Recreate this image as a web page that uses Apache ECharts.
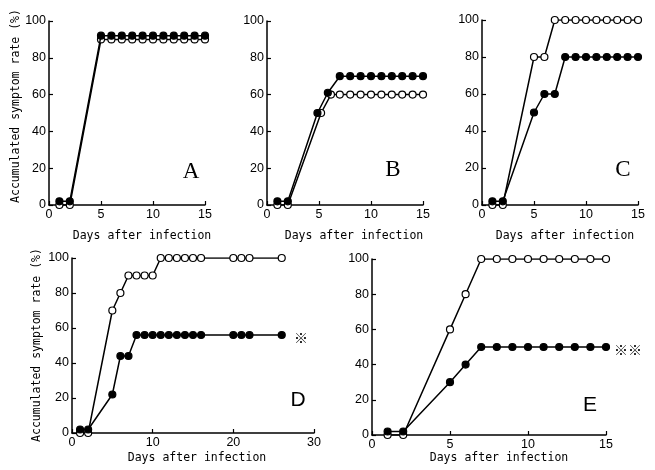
<!DOCTYPE html>
<html><head><meta charset="utf-8">
<script src="https://cdn.jsdelivr.net/npm/echarts@6/dist/echarts.min.js"></script>
<style>html,body{margin:0;padding:0;background:#fff}#c{width:655px;height:470px}</style>
</head><body><div id="c"></div>
<script>
// ---- data ----
const panelLetters = ['A','B','C','D','E'];
const yTicks = [0,20,40,60,80,100];
const xLabel = 'Days after infection';
const yLabel = 'Accumulated symptom rate (%)';

const aDays = [1,2,5,6,7,8,9,10,11,12,13,14,15];
const aOpen = [0,0,90,90,90,90,90,90,90,90,90,90,90];
const aFilled = [2,2,92,92,92,92,92,92,92,92,92,92,92];

const bOpenDays = [1,2,5.2,6.15,7,8,9,10,11,12,13,14,15];
const bOpen = [0,0,50,60,60,60,60,60,60,60,60,60,60];
const bFilledDays = [1,2,4.85,5.85,7,8,9,10,11,12,13,14,15];
const bFilled = [2,2,50,61,70,70,70,70,70,70,70,70,70];

const cDays = [1,2,5,6,7,8,9,10,11,12,13,14,15];
const cOpen = [0,0,80,80,100,100,100,100,100,100,100,100,100];
const cFilled = [2,2,50,60,60,80,80,80,80,80,80,80,80];

const dDays = [1,2,5,6,7,8,9,10,11,12,13,14,15,16,20,21,22,26];
const dOpen = [0,0,70,80,90,90,90,90,100,100,100,100,100,100,100,100,100,100];
const dFilled = [2,2,22,44,44,56,56,56,56,56,56,56,56,56,56,56,56,56];

const eDays = [1,2,5,6,7,8,9,10,11,12,13,14,15];
const eOpen = [0,0,60,80,100,100,100,100,100,100,100,100,100];
const eFilled = [2,2,30,40,50,50,50,50,50,50,50,50,50];

// ---- chart ----
const zip = (xs, ys) => xs.map((x, i) => [x, ys[i]]);
const grids = [
  {left:49, top:21, width:156, height:184},
  {left:267, top:21, width:156, height:184},
  {left:482, top:20, width:156, height:185},
  {left:72, top:258, width:242, height:175},
  {left:372, top:259, width:234, height:176}
];
const xMax = [15,15,15,30,15];
const xInt = [5,5,5,10,5];
const tickFont = {fontFamily:'Liberation Sans Narrow, Arial Narrow, Liberation Sans, sans-serif', fontSize:12.5, color:'#000'};
const axisLine = {lineStyle:{color:'#000', width:1.5}};
const xAxes = grids.map((g,i)=>({
  type:'value', gridIndex:i, min:0, max:xMax[i], interval:xInt[i],
  axisLine:axisLine, axisTick:{inside:true, length:4, lineStyle:{color:'#000', width:1.2}},
  splitLine:{show:false}, axisLabel:Object.assign({margin:3}, tickFont)
}));
const yAxes = grids.map((g,i)=>({
  type:'value', gridIndex:i, min:0, max:100, interval:20,
  axisLine:Object.assign({show:true}, axisLine), axisTick:{show:true, inside:true, length:4, lineStyle:{color:'#000', width:1.2}},
  splitLine:{show:false}, axisLabel:Object.assign({margin:3}, tickFont)
}));
function ser(i, data, filled){
  return {type:'line', xAxisIndex:i, yAxisIndex:i, data:data, symbol:'circle', symbolSize:7,
    showSymbol:true, animation:false, z: filled?3:2,
    lineStyle:{color:'#000', width:1.5},
    itemStyle:{color: filled?'#000':'#fff', borderColor:'#000', borderWidth:1.2}};
}
const series = [
  ser(0, zip(aDays,aOpen), false), ser(0, zip(aDays,aFilled), true),
  ser(1, zip(bOpenDays,bOpen), false), ser(1, zip(bFilledDays,bFilled), true),
  ser(2, zip(cDays,cOpen), false), ser(2, zip(cDays,cFilled), true),
  ser(3, zip(dDays,dOpen), false), ser(3, zip(dDays,dFilled), true),
  ser(4, zip(eDays,eOpen), false), ser(4, zip(eDays,eFilled), true)
];
const mono = 'DejaVu Sans Mono, Liberation Mono, monospace';
function txt(x,y,t,font,size,rot,extra){
  return Object.assign({type:'text', x:x, y:y, rotation:rot||0, silent:true,
    style:{text:t, fontFamily:font, fontSize:size, fill:'#000', align:'center', verticalAlign:'middle'}}, extra||{});
}
const graphic = [
  txt(142,236,xLabel,mono,11.5), txt(354,236,xLabel,mono,11.5), txt(565,236,xLabel,mono,11.5),
  txt(197,458,xLabel,mono,11.5), txt(499,458,xLabel,mono,11.5),
  txt(16,106,yLabel,mono,11.5,Math.PI/2), txt(37,345,yLabel,mono,11.5,Math.PI/2),
  txt(191,172,panelLetters[0],'Liberation Serif, serif',23),
  txt(393,170,panelLetters[1],'Liberation Serif, serif',23),
  txt(623,170,panelLetters[2],'Liberation Serif, serif',23),
  txt(298,400,panelLetters[3],'Liberation Sans Narrow, Liberation Sans, sans-serif',21),
  txt(590,405,panelLetters[4],'Liberation Sans Narrow, Liberation Sans, sans-serif',21),
  txt(301,338,'※','Noto Sans CJK JP, sans-serif',14),
  txt(628,350,'※※','Noto Sans CJK JP, sans-serif',14)
];
const chart = echarts.init(document.getElementById('c'), null, {renderer:'canvas'});
chart.setOption({animation:false, backgroundColor:'#fff', grid:grids, xAxis:xAxes, yAxis:yAxes, series:series, graphic:graphic});
</script></body></html>
